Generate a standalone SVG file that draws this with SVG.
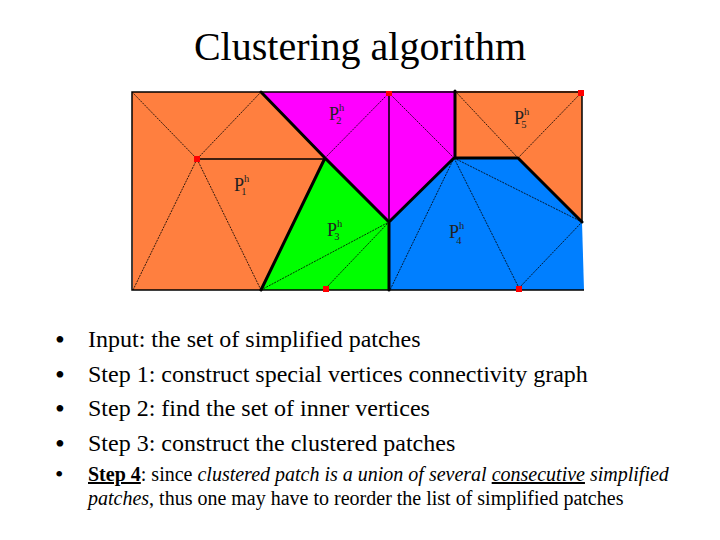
<svg xmlns="http://www.w3.org/2000/svg" width="720" height="540" viewBox="0 0 720 540">
<style>
text{font-family:"Liberation Serif","Times New Roman",serif;fill:#000}
.t{font-size:24px}
.s{font-size:20px}
.bu{font-size:28px}
.bs{font-size:24px}
.p{font-size:18px;fill:#222}
.p tspan{font-size:10.5px}
.e{fill:none;stroke:#000;stroke-width:3;stroke-linecap:round;stroke-linejoin:round}
.b{fill:none;stroke:#000;stroke-width:1.5}
.d{fill:none;stroke:#000;stroke-width:.8;stroke-dasharray:2 1}
.r{fill:#f00}
</style>
<rect width="720" height="540" fill="#fff"/>
<g id="title"><text x="360" y="60" font-size="40" text-anchor="middle">Clustering algorithm</text></g>
<g id="patches">
<polygon id="patch1" points="132,92 261,92 325,158 261,290 133,290" fill="#ff7f3f"/>
<polygon id="patch2" points="261,92 455,91 455,158 389,222 325,158" fill="#ff00ff"/>
<polygon id="patch3" points="325,158 389,222 390,290 261,290" fill="#00ff00"/>
<polygon id="patch4" points="390,222 454,158 518,158 582,222 584,290 390,290" fill="#007fff"/>
<polygon id="patch5" points="455,91 582,91 582,222 518,158 454,158" fill="#ff7f3f"/>
</g>
<g id="connectors">
<path class="d" d="M132,92L197,159M261,92L197,159M197,159L133,290M197,159L261,290M325,158L389,93M389,93L454,158M261,290L389,222M326,288L389,222M454,158L390,290M454,158L519,288M454,158L582,222M519,288L582,222M455,91L518,158M518,158L581,93"/>
<path class="b" d="M197,159H325M389,93V222"/>
<path class="b" d="M261,92H132V290H261M261,92H455H582V222M390,290H584M261,290H390"/>
<path class="e" d="M261,92L325,158L389,222L454,158H518L582,222M325,158L261,290M389,222V290M455,91V158"/>
</g>
<g id="markers">
<rect class="r" x="194" y="156" width="6" height="6"/>
<rect class="r" x="386" y="91" width="6" height="5"/>
<rect class="r" x="578" y="90" width="6" height="6"/>
<rect class="r" x="323" y="286" width="6" height="6"/>
<rect class="r" x="516" y="286" width="6" height="6"/>
</g>
<g id="labels">
<text class="p" x="234" y="191">P<tspan dy="-9">h</tspan><tspan dx="-8" dy="13">1</tspan></text>
<text class="p" x="329" y="120">P<tspan dy="-9">h</tspan><tspan dx="-8" dy="13">2</tspan></text>
<text class="p" x="327" y="236">P<tspan dy="-9">h</tspan><tspan dx="-8" dy="13">3</tspan></text>
<text class="p" x="449" y="238">P<tspan dy="-9">h</tspan><tspan dx="-8" dy="15">4</tspan></text>
<text class="p" x="514" y="124">P<tspan dy="-9">h</tspan><tspan dx="-8" dy="13">5</tspan></text>
</g>
<g id="list">
<text class="bu" x="55" y="349">•</text><text class="t" x="88" y="347">Input: the set of simplified patches</text>
<text class="bu" x="55" y="384">•</text><text class="t" x="88" y="382">Step 1: construct special vertices connectivity graph</text>
<text class="bu" x="55" y="418">•</text><text class="t" x="88" y="416">Step 2: find the set of inner vertices</text>
<text class="bu" x="55" y="453">•</text><text class="t" x="88" y="451">Step 3: construct the clustered patches</text>
<text class="bs" x="55" y="482">•</text>
<text class="s" x="88" y="481"><tspan font-weight="bold" text-decoration="underline">Step 4</tspan>: since <tspan font-style="italic">clustered patch is a union of several </tspan><tspan font-style="italic" text-decoration="underline">consecutive</tspan><tspan font-style="italic"> simplified</tspan></text>
<text class="s" x="88" y="505"><tspan font-style="italic">patches</tspan>, thus one may have to reorder the list of simplified patches</text>
</g>
</svg>
